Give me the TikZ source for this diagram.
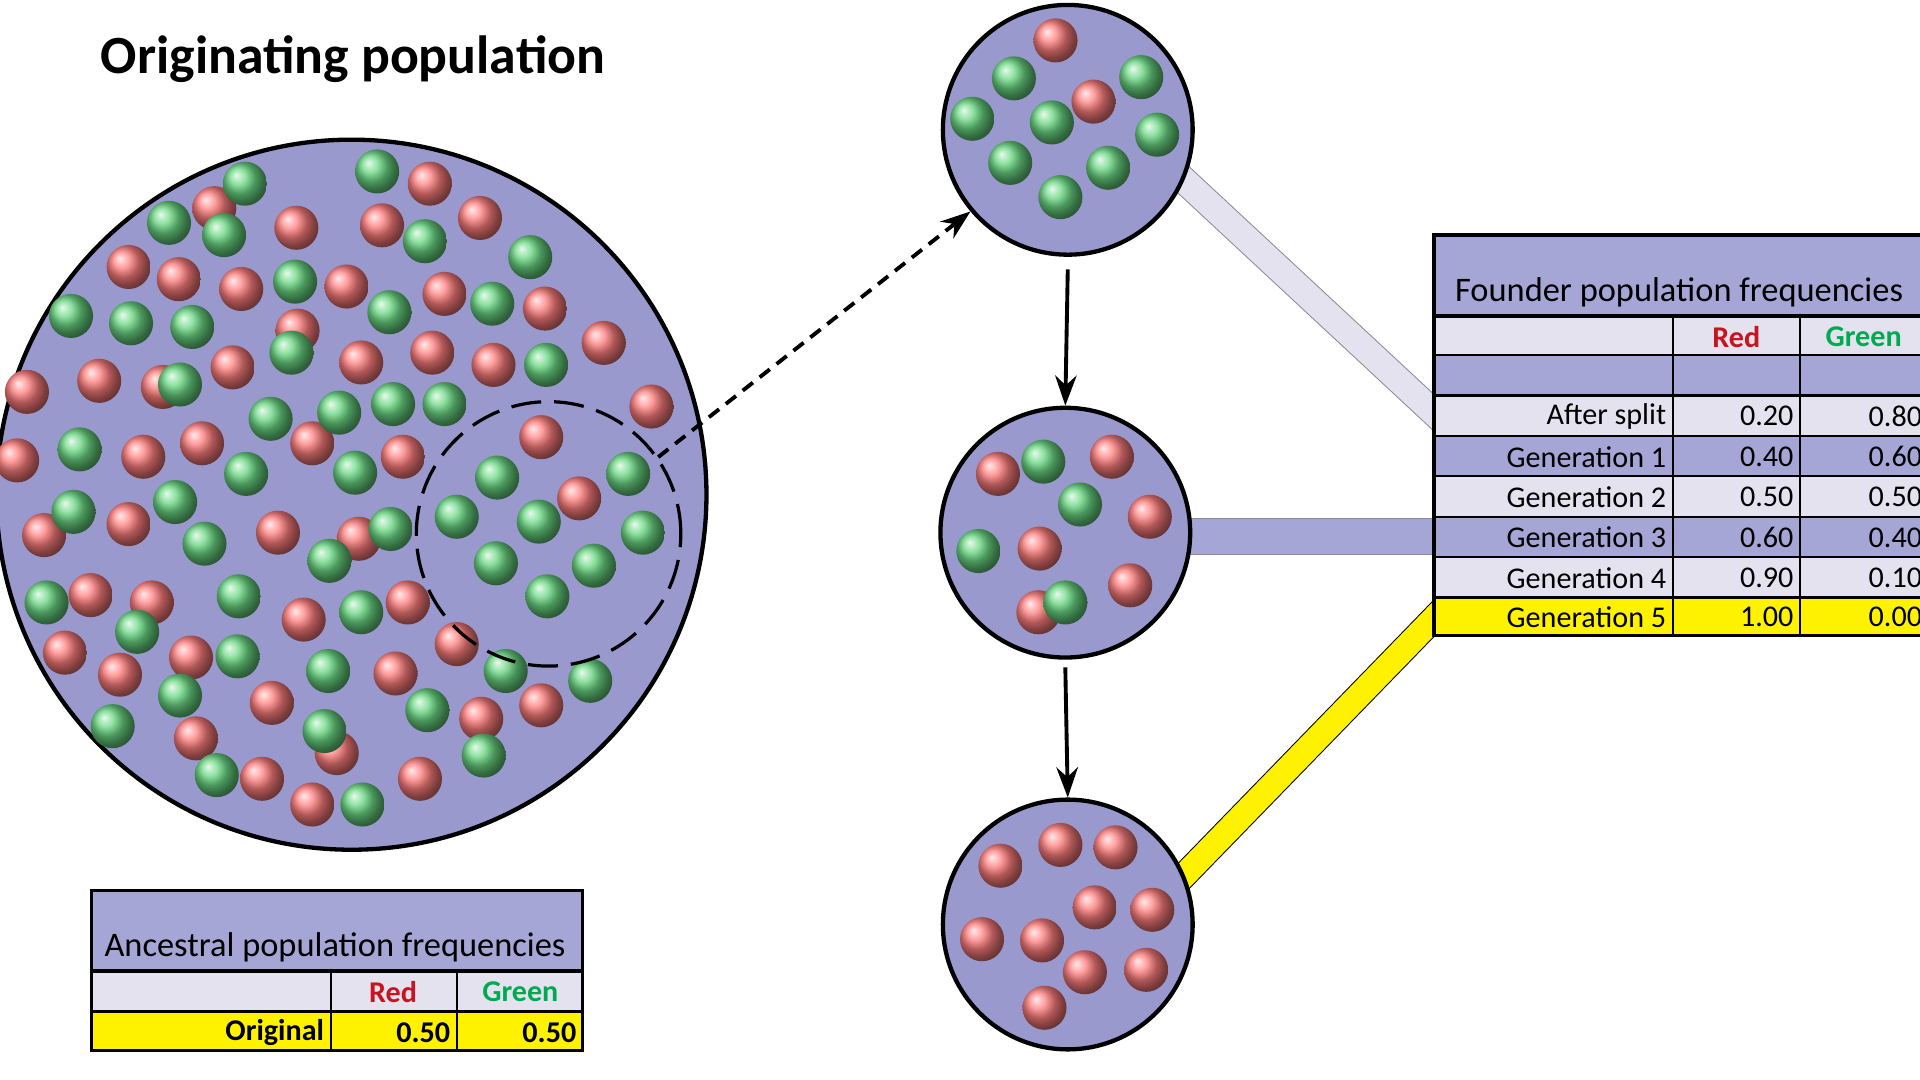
\documentclass[tikz,border=0pt]{standalone}
\usepackage{fontspec}
\setmainfont{Carlito}
\usetikzlibrary{arrows.meta,positioning,shapes}
\definecolor{popfill}{RGB}{153,153,206}
\definecolor{rowdark}{RGB}{165,166,214}
\definecolor{rowlight}{RGB}{228,226,238}
\definecolor{bandgray}{RGB}{140,140,150}
\definecolor{redtxt}{RGB}{200,20,30}
\definecolor{greentxt}{RGB}{0,170,80}
\definecolor{ballred}{RGB}{255,125,125}
\definecolor{ballgreen}{RGB}{105,215,130}
\tikzset{
  pop/.style={circle, draw=black, line width=2pt, fill=popfill, inner sep=0pt},
  redball/.style={ball color=ballred},
  greenball/.style={ball color=ballgreen},
  cell/.style={draw=black, line width=1pt},
  txt/.style={font=\fontsize{14}{16}\selectfont, inner sep=0pt}
}
\begin{document}
\begin{tikzpicture}[x=0.02cm, y=-0.02cm]
		\useasboundingbox (0,0) rectangle (1568,882);
		\node [font=\fontsize{25}{30}\selectfont\bfseries, anchor=west, inner sep=0pt] (title) at (82,48) {Originating population};
		% connecting bands
		\filldraw [fill=rowlight, draw=bandgray] (900,70) -- (1171,322) -- (1171,352) -- (900,100) -- cycle;
		\filldraw [fill=rowdark, draw=bandgray] (900,423) -- (1171,423) -- (1171,453) -- (900,453) -- cycle;
		\filldraw [fill=yellow, draw=black] (900,769) -- (1171,490) -- (1171,520) -- (900,799) -- cycle;
		% populations
		\node [pop, minimum size=11.6cm] (big) at (287,404) {};
		\node [pop, minimum size=4.08cm] (top) at (872,106) {};
		\node [pop, minimum size=4.08cm] (mid) at (870,435) {};
		\node [pop, minimum size=4.08cm] (bot) at (872,755) {};
		\foreach \x/\y in {175/170,351/150,242/186,312/184,392/178,105/218,146/228,197/236,283/234,363/240,445/252,493/280,243/270,81/311,190/300,295/296,353/288,403/298,22/320,133/316,532/332,165/362,117/373,255/362,329/373,442/357,14/376,105/428,36/437,227/435,293/440,473/407,74/486,124/492,248/506,333/492,53/533,156/537,98/551,373/526,323/550,222/574,442/576,393/587,160/603,275/615,214/636,255/657,343/636,
		862/33,893/83,815/387,908/373,939/422,849/448,923/478,848/500,
		817/707,866/690,911/692,894/741,941/743,802/767,851/768,886/794,936/792,853/823}
			\shade [redball] (\x,\y) circle (18);
		\foreach \x/\y in {200/150,308/140,138/182,183/192,347/197,433/210,241/230,58/258,107/264,157/267,318/255,402/248,238/288,147/314,446/298,221/342,277/337,321/330,363/330,65/367,201/387,290/386,143/410,60/418,167/444,319/432,406/390,373/422,440/426,513/387,525/435,269/458,405/460,485/462,447/487,195/487,38/492,295/500,112/516,194/536,268/548,413/548,147/568,349/580,482/556,92/593,265/597,395/617,177/633,296/657,
		828/64,932/63,794/97,859/100,945/110,825/133,905/137,866/161,
		852/377,882/412,799/450,870/492}
			\shade [greenball] (\x,\y) circle (18);
		\node [circle, draw=black, line width=1.5pt, dash pattern=on 14pt off 6pt, minimum size=4.32cm] (sample) at (448,436) {};
		% arrows
		\draw [line width=1.8pt, dash pattern=on 6pt off 4pt, -{Stealth[length=14pt,width=10pt]}] (sample.35) -- (top.220);
		\draw [line width=1.8pt, -{Stealth[length=14pt,width=10pt]}] (top) ++(0,114) coordinate (t1) (t1) -- (mid.north);
		\draw [line width=1.8pt, -{Stealth[length=14pt,width=10pt]}] (mid) ++(0,110) coordinate (m1) (m1) -- (bot.north);
		% founder table
		\fill [rowdark] (1171,192) rectangle (1575,258);
		\foreach \ya/\yb/\c in {258/290/rowlight,290/323/rowdark,323/356/rowlight,356/389/rowdark,389/422/rowlight,422/455/rowdark,455/488/rowlight,488/519/yellow}
			\filldraw [cell, fill=\c] (1171,\ya) rectangle (1366,\yb) (1366,\ya) rectangle (1470,\yb) (1470,\ya) rectangle (1575,\yb);
		\draw [line width=1.5pt] (1575,192) -- (1171,192) -- (1171,519) -- (1575,519);
		\draw [line width=1.5pt] (1171,258) -- (1575,258);
		\node [txt, font=\fontsize{16}{18}\selectfont, anchor=west] (ftitle) at (1188,239) {Founder population frequencies};
		\node [txt, font=\fontsize{14}{16}\selectfont\bfseries, text=redtxt] (fred) at (1418,275) {Red};
		\node [txt, font=\fontsize{14}{16}\selectfont\bfseries, text=greentxt] (fgreen) at (1522,275) {Green};
		\foreach \y/\lab/\r/\g [count=\i] in {340/After split/0.20/0.80,373/Generation 1/0.40/0.60,406/Generation 2/0.50/0.50,439/Generation 3/0.60/0.40,472/Generation 4/0.90/0.10,504/Generation 5/1.00/0.00} {
			\node [txt, anchor=east] (flab\i) at (1361,\y) {\lab};
			\node [txt, anchor=east] (fr\i) at (1465,\y) {\r};
			\node [txt, anchor=east] (fg\i) at (1570,\y) {\g};
		}
		% ancestral table
		\fill [rowdark] (75,727) rectangle (476,793);
		\filldraw [cell, fill=rowlight] (75,793) rectangle (270,826) (270,793) rectangle (373,826) (373,793) rectangle (476,826);
		\filldraw [cell, fill=yellow] (75,826) rectangle (270,858) (270,826) rectangle (373,858) (373,826) rectangle (476,858);
		\draw [line width=1.5pt] (75,727) rectangle (476,858) (75,793) -- (476,793);
		\node [txt, font=\fontsize{16}{18}\selectfont, anchor=west] (atitle) at (85,774) {Ancestral population frequencies};
		\node [txt, font=\fontsize{14}{16}\selectfont\bfseries, text=redtxt] (ared) at (321,810) {Red};
		\node [txt, font=\fontsize{14}{16}\selectfont\bfseries, text=greentxt] (agreen) at (425,810) {Green};
		\node [txt, font=\fontsize{14}{16}\selectfont\bfseries, anchor=east] (alab) at (265,843) {Original};
		\node [txt, font=\fontsize{14}{16}\selectfont\bfseries, anchor=east] (ar) at (368,843) {0.50};
		\node [txt, font=\fontsize{14}{16}\selectfont\bfseries, anchor=east] (ag) at (471,843) {0.50};
	\end{tikzpicture}
\end{document}
